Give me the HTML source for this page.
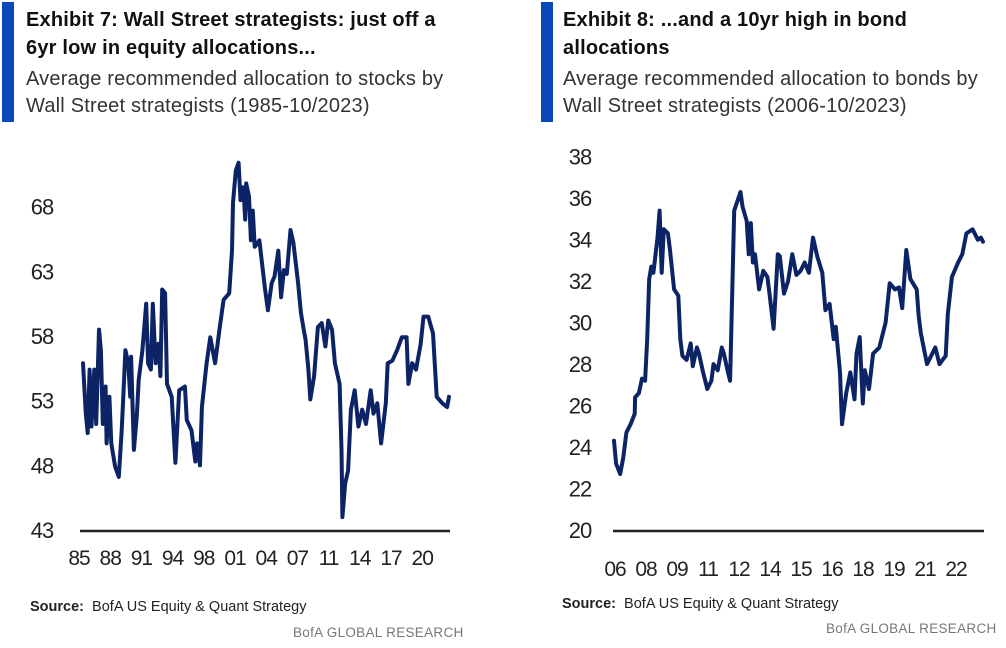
<!DOCTYPE html>
<html><head><meta charset="utf-8">
<style>
body{margin:0;width:1006px;height:648px;background:#fff;overflow:hidden;font-family:"Liberation Sans",sans-serif;position:relative}
.bar{position:absolute;top:2px;width:12px;height:120px;background:#0a47b8}
.t{position:absolute;font-weight:bold;font-size:20px;line-height:28px;color:#111;letter-spacing:0.2px;white-space:nowrap}
.s{position:absolute;font-size:20px;line-height:27px;color:#333;letter-spacing:0.2px;white-space:nowrap}
.src{position:absolute;font-size:14.5px;color:#222;white-space:nowrap}
.brand{position:absolute;font-size:13.5px;color:#777;letter-spacing:0.3px;white-space:nowrap}
svg{position:absolute;left:0;top:0}
</style></head><body>
<div class="bar" style="left:2px"></div>
<div class="t" style="left:26px;top:6px">Exhibit 7: Wall Street strategists: just off a<br>6yr low in equity allocations...</div>
<div class="s" style="left:26px;top:66px">Average recommended allocation to stocks by<br>Wall Street strategists (1985-10/2023)</div>
<div class="bar" style="left:541px"></div>
<div class="t" style="left:563px;top:6px">Exhibit 8: ...and a 10yr high in bond<br>allocations</div>
<div class="s" style="left:563px;top:66px">Average recommended allocation to bonds by<br>Wall Street strategists (2006-10/2023)</div>
<div class="src" style="left:30px;top:599px"><b>Source:</b>&nbsp; BofA US Equity &amp; Quant Strategy</div>
<div class="brand" style="left:293px;top:625px">BofA GLOBAL RESEARCH</div>
<div class="src" style="left:562px;top:596px"><b>Source:</b>&nbsp; BofA US Equity &amp; Quant Strategy</div>
<div class="brand" style="left:826px;top:621px">BofA GLOBAL RESEARCH</div>
<svg id="chart" width="1006" height="648"></svg>
<script>
const leftYears=[1985.0,1985.3,1985.5,1985.7,1985.9,1986.2,1986.4,1986.7,1986.9,1987.1,1987.4,1987.5,1987.8,1988.0,1988.4,1988.8,1989.1,1989.3,1989.5,1989.8,1990.0,1990.1,1990.4,1990.7,1990.9,1991.3,1991.7,1991.9,1992.2,1992.4,1992.7,1993.0,1993.2,1993.4,1993.7,1993.9,1994.4,1994.8,1995.2,1995.8,1996.0,1996.5,1996.9,1997.1,1997.4,1997.6,1998.1,1998.5,1999.0,1999.5,1999.9,2000.5,2000.8,2000.9,2001.2,2001.5,2001.7,2002.0,2002.2,2002.3,2002.6,2002.8,2003.0,2003.2,2003.7,2003.9,2004.3,2004.6,2005.0,2005.3,2005.7,2006.0,2006.3,2006.6,2007.0,2007.3,2007.8,2008.1,2008.4,2008.6,2008.9,2009.1,2009.5,2009.9,2010.3,2010.7,2011.0,2011.4,2011.7,2012.2,2012.4,2012.5,2012.8,2013.1,2013.4,2013.8,2014.2,2014.6,2015.0,2015.5,2015.8,2016.2,2016.6,2017.1,2017.3,2017.8,2018.3,2018.8,2019.3,2019.5,2019.9,2020.3,2020.8,2021.1,2021.6,2022.1,2022.5,2023.1,2023.6,2023.8];
const leftValues=[55.9,52.0,50.5,55.4,51.0,55.4,51.2,58.5,56.9,51.2,54.1,49.7,53.3,49.7,47.9,47.1,50.7,53.8,56.9,55.9,53.3,56.4,49.2,51.8,54.6,56.9,60.5,55.9,55.4,60.5,55.9,57.4,54.9,61.6,61.3,54.3,53.3,48.2,53.8,54.1,51.5,50.7,48.3,49.7,48.0,52.5,55.9,57.9,55.9,58.7,60.8,61.3,64.6,68.3,70.8,71.4,68.5,69.5,67.0,69.8,68.8,65.4,67.7,64.9,65.4,64.1,61.6,60.0,62.1,62.6,64.6,61.0,63.1,62.8,66.2,65.2,62.1,59.8,58.5,57.7,55.4,53.1,54.9,58.7,59.0,57.2,59.2,58.5,55.9,54.3,49.2,44.0,46.6,47.6,52.3,53.8,51.0,52.3,51.2,53.8,52.0,52.8,49.7,52.8,55.9,56.1,56.9,57.9,57.9,54.3,55.9,55.4,57.4,59.5,59.5,58.2,53.3,52.8,52.5,53.3];
const leftTicks=[43,48,53,58,63,68];
const leftXLabels=["85","88","91","94","98","01","04","07","11","14","17","20"];

const rightYears=[2006.0,2006.1,2006.3,2006.45,2006.6,2006.8,2007.0,2007.02,2007.2,2007.35,2007.5,2007.6,2007.7,2007.8,2007.9,2008.1,2008.2,2008.3,2008.4,2008.6,2008.7,2008.9,2009.1,2009.2,2009.3,2009.5,2009.7,2009.8,2010.0,2010.1,2010.3,2010.5,2010.7,2010.8,2011.0,2011.2,2011.3,2011.5,2011.6,2011.8,2012.1,2012.2,2012.4,2012.5,2012.6,2012.7,2012.8,2013.0,2013.2,2013.4,2013.5,2013.7,2013.9,2014.0,2014.2,2014.4,2014.6,2014.8,2015.0,2015.2,2015.4,2015.6,2015.8,2016.05,2016.2,2016.4,2016.6,2016.7,2016.9,2017.0,2017.2,2017.4,2017.6,2017.7,2017.85,2018.0,2018.1,2018.3,2018.5,2018.8,2019.0,2019.1,2019.3,2019.55,2019.75,2019.9,2020.1,2020.3,2020.6,2020.7,2020.8,2021.1,2021.3,2021.5,2021.7,2022.0,2022.1,2022.3,2022.6,2022.8,2023.0,2023.3,2023.55,2023.7,2023.8];
const rightValues=[24.3,23.2,22.7,23.5,24.7,25.1,25.6,26.4,26.6,27.3,27.2,29.2,32.1,32.7,32.4,34.1,35.4,32.4,34.5,34.3,33.5,31.6,31.3,29.2,28.4,28.2,29.0,27.9,28.8,28.5,27.6,26.8,27.2,28.0,27.7,28.8,28.5,27.6,27.2,35.4,36.3,35.6,34.9,33.3,34.8,32.9,33.3,31.6,32.5,32.2,31.4,29.7,33.3,33.2,31.4,32.0,33.3,32.3,32.5,32.9,32.4,34.1,33.2,32.4,30.6,30.9,29.2,29.8,27.6,25.1,26.6,27.6,26.3,28.5,29.3,26.1,27.7,26.8,28.5,28.8,29.6,30.0,31.9,31.6,31.7,30.7,33.5,32.1,31.6,30.3,29.5,28.0,28.4,28.8,28.0,28.4,30.4,32.2,32.9,33.3,34.3,34.5,34.0,34.1,33.9];
const rightTicks=[20,22,24,26,28,30,32,34,36,38];
const rightXLabels=["06","08","09","11","12","14","15","16","18","19","21","22"];

const NS="http://www.w3.org/2000/svg";
const svg=document.getElementById('chart');
function mk(tag,attrs){const e=document.createElementNS(NS,tag);for(const k in attrs)e.setAttribute(k,attrs[k]);svg.appendChild(e);return e;}

function drawChart(cfg){
  const xs=v=>cfg.x0+(v-cfg.t0)/(cfg.t1-cfg.t0)*(cfg.x1-cfg.x0);
  const ys=v=>cfg.y0-(v-cfg.v0)/(cfg.v1-cfg.v0)*(cfg.y0-cfg.y1);
  const ax=mk('line',{x1:cfg.ax0,x2:cfg.ax1,y1:ys(cfg.v0)+1,y2:ys(cfg.v0)+1,stroke:'#222','stroke-width':2.5});
  
  
  cfg.ticks.forEach(t=>{
    const tx=mk('text',{x:cfg.ylx,y:ys(t)+8,'font-size':22,fill:'#222','text-anchor':'middle','font-family':'Liberation Sans, sans-serif','letter-spacing':'-1'});
    tx.textContent=t;
    
    
  });
  cfg.labels.forEach((l,i)=>{
    const tx=mk('text',{x:cfg.lx0+i*cfg.lstep,y:cfg.ly,'font-size':21,fill:'#222','text-anchor':'middle','font-family':'Liberation Sans, sans-serif','letter-spacing':'-1'});
    tx.textContent=l;
    
    
  });
  const d=cfg.years.map((y,i)=>(i?'L':'M')+xs(y).toFixed(1)+','+ys(cfg.vals[i]).toFixed(1)).join('');
  const p=mk('path',{d:d,fill:'none',stroke:'#0c2466','stroke-width':4,'stroke-linejoin':'round','stroke-linecap':'round'});
  
  
}
drawChart({p:'left',years:leftYears,vals:leftValues,ticks:leftTicks,labels:leftXLabels,
  x0:83,x1:449,t0:1985,t1:2023.8,y0:530,y1:206.7,v0:43,v1:68,ax0:80,ax1:450,ylx:42,lx0:79,lstep:31.2,ly:565});
drawChart({p:'right',years:rightYears,vals:rightValues,ticks:rightTicks,labels:rightXLabels,
  x0:614,x1:983,t0:2006,t1:2023.8,y0:530,y1:156.7,v0:20,v1:38,ax0:613,ax1:984,ylx:580,lx0:615,lstep:31,ly:576});
</script>
</body></html>
